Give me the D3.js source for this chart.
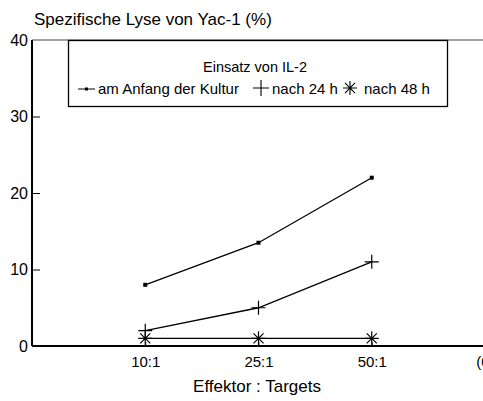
<!DOCTYPE html>
<html>
<head>
<meta charset="utf-8">
<script src="https://cdn.jsdelivr.net/npm/d3@7"></script>
<style>
  body { margin: 0; background: #fff; }
  svg { display: block; font-family: "Liberation Sans", Arial, sans-serif; }
</style>
</head>
<body>
<div id="chart"></div>
<script>
var categories = ["10:1", "25:1", "50:1", "(0)"];
var anfang = [8, 13.5, 22];
var nach24 = [2, 5, 11];
var nach48 = [1, 1, 1];
var yTicks = [0, 10, 20, 30, 40];

var svgWidth = 483;
var svgHeight = 401;

var margin = { top: 40, right: 0, bottom: 55, left: 32 };
var height = svgHeight - margin.top - margin.bottom;

var svg = d3.select("#chart")
  .append("svg")
  .attr("width", svgWidth)
  .attr("height", svgHeight);

var chartGroup = svg.append("g")
  .attr("transform", `translate(${margin.left}, ${margin.top})`);

// x: category index 1..4, 0 sits on the y axis
var xScale = d3.scaleLinear().domain([0, 4]).range([0, 453]);
var yScale = d3.scaleLinear().domain([0, 40]).range([height, 0]);

// top frame line
chartGroup.append("line")
  .attr("x1", 0).attr("x2", svgWidth)
  .attr("y1", yScale(40)).attr("y2", yScale(40))
  .attr("stroke", "#444").attr("stroke-width", 1);

// y axis, ticks pointing inward
var leftAxis = d3.axisLeft(yScale).tickValues(yTicks).tickSize(-8).tickPadding(4);
var yAxisG = chartGroup.append("g").call(leftAxis);
yAxisG.select(".domain").attr("stroke-width", 2).attr("d", `M0,0V${height}`);
yAxisG.selectAll(".tick line").attr("stroke-width", 1)
  .filter(d => d === 0 || d === 40).remove();
yAxisG.selectAll("text")
  .attr("x", -4)
  .style("font-size", "16px").style("font-family", "Liberation Sans, Arial, sans-serif")
  .attr("fill", "#000");

// x axis
var bottomAxis = d3.axisBottom(xScale)
  .tickValues([1, 2, 3, 4])
  .tickFormat((d, i) => categories[i])
  .tickSize(-4).tickPadding(10);
var xAxisG = chartGroup.append("g")
  .attr("transform", `translate(0, ${height})`)
  .call(bottomAxis);
xAxisG.select(".domain").attr("stroke-width", 2).attr("d", `M0,0H${svgWidth}`);
xAxisG.selectAll(".tick line").attr("stroke-width", 0.8);
xAxisG.selectAll("text")
  .style("font-size", "15px").style("font-family", "Liberation Sans, Arial, sans-serif")
  .attr("fill", "#000");

// lines
var line = d3.line()
  .x((d, i) => xScale(i + 1))
  .y(d => yScale(d));

[anfang, nach24, nach48].forEach(function(series) {
  chartGroup.append("path")
    .datum(series)
    .attr("d", line)
    .attr("fill", "none")
    .attr("stroke", "#000")
    .attr("stroke-width", 1.3);
});

function plusPath(s) {
  return `M${-s},0H${s}M0,${-s}V${s}`;
}
function starPath(s) {
  var d = s * 0.72;
  return `M${-s},0H${s}M0,${-s}V${s}M${-d},${-d}L${d},${d}M${-d},${d}L${d},${-d}`;
}

// markers
chartGroup.selectAll(".dot")
  .data(anfang).enter().append("rect")
  .attr("x", (d, i) => xScale(i + 1) - 2)
  .attr("y", d => yScale(d) - 2)
  .attr("width", 4).attr("height", 4)
  .attr("fill", "#000");

chartGroup.selectAll(".plus")
  .data(nach24).enter().append("path")
  .attr("transform", (d, i) => `translate(${xScale(i + 1)}, ${yScale(d)})`)
  .attr("d", plusPath(7))
  .attr("stroke", "#000").attr("stroke-width", 1.2).attr("fill", "none");

chartGroup.selectAll(".star")
  .data(nach48).enter().append("path")
  .attr("transform", (d, i) => `translate(${xScale(i + 1)}, ${yScale(d)})`)
  .attr("d", starPath(7))
  .attr("stroke", "#000").attr("stroke-width", 1.2).attr("fill", "none");

// legend box
var legend = svg.append("g");
legend.append("rect")
  .attr("x", 68.5).attr("y", 40.5)
  .attr("width", 379).attr("height", 66)
  .attr("fill", "#fff").attr("stroke", "#000").attr("stroke-width", 1.3);
legend.append("text")
  .attr("x", 255).attr("y", 72)
  .attr("text-anchor", "middle")
  .style("font-size", "14.5px")
  .text("Einsatz von IL-2");

legend.append("line")
  .attr("x1", 78).attr("x2", 95).attr("y1", 89).attr("y2", 89)
  .attr("stroke", "#000").attr("stroke-width", 1);
legend.append("rect")
  .attr("x", 85).attr("y", 87.5).attr("width", 3).attr("height", 3)
  .attr("fill", "#000");
legend.append("text")
  .attr("x", 98).attr("y", 94)
  .style("font-size", "15px")
  .text("am Anfang der Kultur");

legend.append("path")
  .attr("transform", "translate(261, 88)")
  .attr("d", plusPath(8))
  .attr("stroke", "#000").attr("stroke-width", 1.1).attr("fill", "none");
legend.append("text")
  .attr("x", 272).attr("y", 94)
  .style("font-size", "15px")
  .text("nach 24 h");

legend.append("path")
  .attr("transform", "translate(350, 88)")
  .attr("d", starPath(7))
  .attr("stroke", "#000").attr("stroke-width", 1.1).attr("fill", "none");
legend.append("text")
  .attr("x", 364).attr("y", 94)
  .style("font-size", "15px")
  .text("nach 48 h");

// titles
svg.append("text")
  .attr("x", 34).attr("y", 25)
  .style("font-size", "17px")
  .text("Spezifische Lyse von Yac-1 (%)");

svg.append("text")
  .attr("x", 257).attr("y", 392)
  .attr("text-anchor", "middle")
  .style("font-size", "17px")
  .text("Effektor : Targets");
</script>
</body>
</html>
